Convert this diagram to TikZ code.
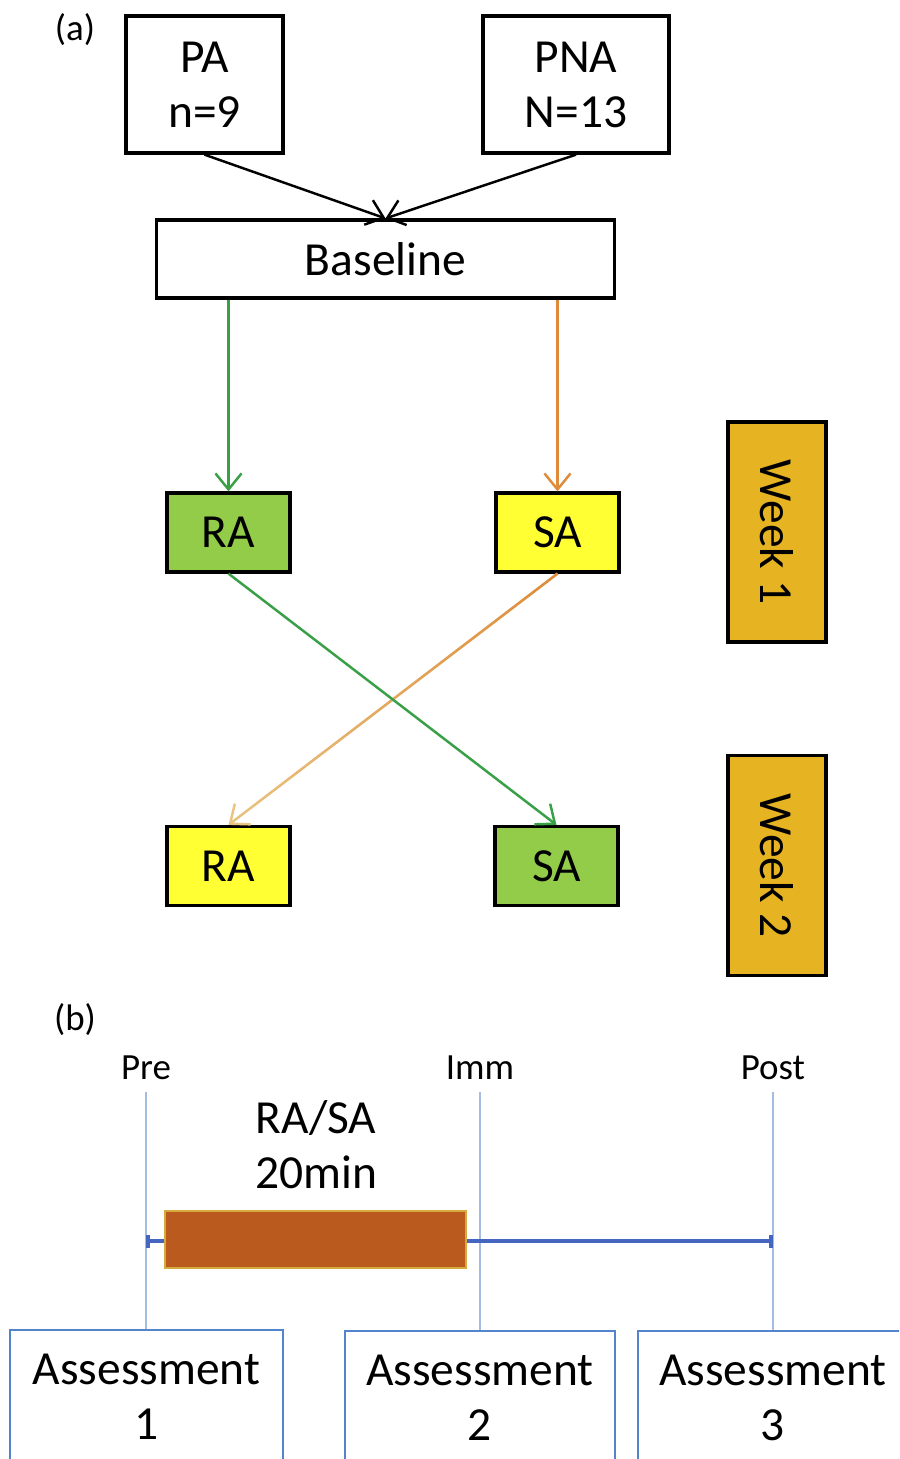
\documentclass[tikz,border=0pt]{standalone}
\usepackage{fontspec}
\setmainfont{Carlito}
\usepackage{xcolor}
\usetikzlibrary{arrows.meta}
\usetikzlibrary{fadings}

\definecolor{grnFill}{RGB}{146,204,72}
\definecolor{ylwFill}{RGB}{255,255,51}
\definecolor{weekFill}{RGB}{230,180,34}
\definecolor{grnLine}{RGB}{58,160,72}
\definecolor{orgLine}{RGB}{222,140,58}
\definecolor{orgLight}{RGB}{234,196,130}
\definecolor{barFill}{RGB}{186,90,30}
\definecolor{barEdge}{RGB}{214,170,60}
\definecolor{tlBlue}{RGB}{68,102,192}
\definecolor{thinBlue}{RGB}{165,188,226}
\definecolor{boxBlue}{RGB}{84,132,204}

\begin{document}
\begin{tikzpicture}[x=0.01cm, y=-0.01cm,
	bigtxt/.style={font=\fontsize{13.5}{15.6}\selectfont},
	smalltxt/.style={font=\fontsize{10.5}{12}\selectfont},
	blk/.style={draw=black, line width=0.9pt, bigtxt, align=center, inner sep=0pt},
	arm/.style={blk, minimum width=1.23cm, minimum height=0.79cm},
	weekbox/.style={blk, fill=weekFill, minimum width=2.2cm, minimum height=0.98cm},
	flow/.style={line width=0.7pt, -{Straight Barb[length=1.6mm,width=2.6mm]}},
	assess/.style={draw=boxBlue, line width=0.7pt, bigtxt, align=center, inner sep=0pt, minimum height=1.34cm},
	guide/.style={draw=thinBlue, line width=0.4pt}]
				\useasboundingbox (0,0) rectangle (899,1459);
				\fill [white] (0,0) rectangle (899,1459);
				\clip (0,0) rectangle (899,1459);
				
				% (a) crossover design
				\node [smalltxt] (lblA) at (75,30) {(a)};
				\node [blk, minimum width=1.57cm, minimum height=1.37cm] (pa) at (204.5,84.5) {PA\\n=9};
				\node [blk, minimum width=1.86cm, minimum height=1.37cm] (pna) at (576,84.5) {PNA\\N=13};
				\node [blk, minimum width=4.57cm, minimum height=0.78cm] (base) at (385.5,259) {Baseline};
				
				\node [arm, fill=grnFill] (raA) at (228.5,532.5) {RA};
				\node [arm, fill=ylwFill] (saA) at (557.5,532.5) {SA};
				\node [arm, fill=ylwFill] (raB) at (228.5,866) {RA};
				\node [arm, fill=grnFill] (saB) at (556.5,866) {SA};
				
				\node [weekbox, rotate=-90] (wkA) at (777,532) {Week 1};
				\node [weekbox, rotate=-90] (wkB) at (777,865.5) {Week 2};
				
				\draw [flow] (pa.south) -- (base.north);
				\draw [flow] (pna.south) -- (base.north);
				
				\draw [flow, grnLine] (base.south -| raA.north) -- (raA.north);
				\draw [flow, orgLine] (base.south -| saA.north) -- (saA.north);
				
				\draw [flow, orgLight] (saA.south) -- (raB.north);
				\draw [orgLine, line width=0.7pt, path fading=south] (saA.south) -- (raB.north);
				\draw [flow, grnLine] (raA.south) -- (saB.north);
				
				% (b) session timeline
				\node [smalltxt] (lblB) at (75,1020) {(b)};
				\node [smalltxt] (pre) at (146,1068) {Pre};
				\node [smalltxt] (imm) at (480,1068) {Imm};
				\node [smalltxt] (post) at (773,1068) {Post};
				
				\node [assess, minimum width=2.73cm] (asA) at (146.5,1397) {Assessment\\1};
				\node [assess, minimum width=2.70cm] (asB) at (480,1398) {Assessment\\2};
				\node [assess, minimum width=2.70cm] (asC) at (773,1398) {Assessment\\3};
				
				\draw [guide] (pre.south) -- (pre.south |- asA.north);
				\draw [guide] (imm.south) -- (imm.south |- asB.north);
				\draw [guide] (post.south) -- (post.south |- asC.north);
				
				\coordinate (tlStart) at (146,1241);
				\coordinate (tlEnd) at (773,1241);
				\draw [tlBlue, line width=1.2pt, {Bar[width=1.3mm]}-{Bar[width=1.3mm]}] (tlStart) -- (tlEnd);
				
				\node [draw=barEdge, fill=barFill, line width=0.4pt, inner sep=0pt, minimum width=3.01cm, minimum height=0.57cm] (bar) at (315.5,1239.5) {};
				\node [bigtxt, align=center] (act) at (316,1145) {RA/SA\\20min};
\end{tikzpicture}
\end{document}
